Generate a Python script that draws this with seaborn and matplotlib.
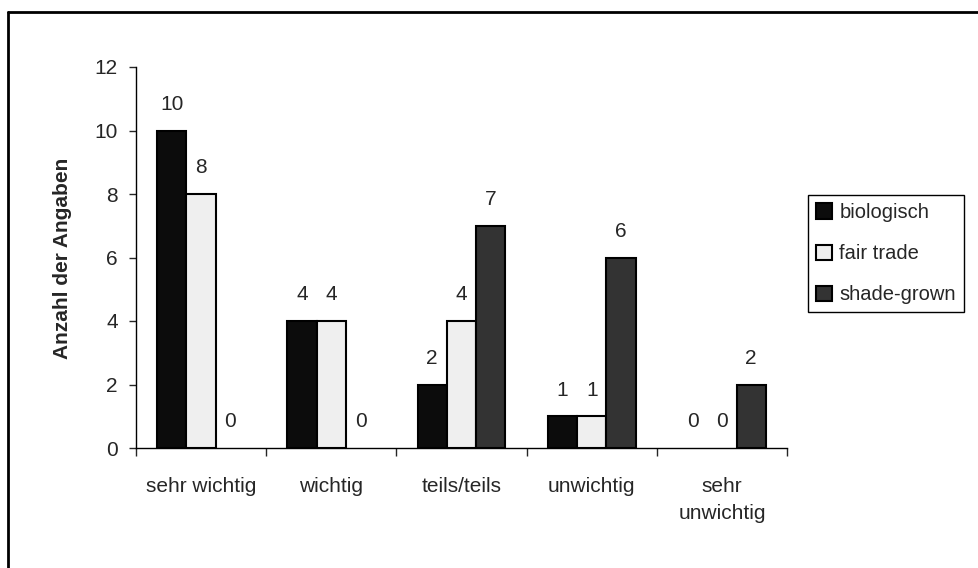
import matplotlib
matplotlib.use("Agg")
import matplotlib.pyplot as plt
from matplotlib.lines import Line2D
from matplotlib.ticker import FixedLocator, NullFormatter
import seaborn as sns
import pandas as pd

categories = ["sehr wichtig", "wichtig", "teils/teils", "unwichtig", "sehr\nunwichtig"]
series = ["biologisch", "fair trade", "shade-grown"]
biologisch = [10, 4, 2, 1, 0]
fair_trade = [8, 4, 4, 1, 0]
shade_grown = [0, 0, 7, 6, 2]
y_ticks = [0, 2, 4, 6, 8, 10, 12]

df = pd.DataFrame({
    "Kategorie": categories * 3,
    "Reihe": [series[0]] * 5 + [series[1]] * 5 + [series[2]] * 5,
    "Anzahl": biologisch + fair_trade + shade_grown,
})

sns.set_style("white")
plt.rcParams["font.family"] = ["Liberation Sans", "DejaVu Sans"]

fig = plt.figure(figsize=(9.79, 5.68), dpi=100)
ax = fig.add_axes([136 / 979, 1 - 448 / 568, 651 / 979, 381 / 568])

palette = {"biologisch": "#0c0c0c", "fair trade": "#efefef", "shade-grown": "#333333"}
sns.barplot(data=df, x="Kategorie", y="Anzahl", hue="Reihe", order=categories,
            hue_order=series, palette=palette, width=0.675, gap=0,
            edgecolor="black", linewidth=1.5, saturation=1, ax=ax)

for cont in ax.containers:
    # zero-height bars leave no outline on the axis
    for patch, v in zip(cont.patches, cont.datavalues):
        if v == 0:
            patch.set_linewidth(0)
    ax.bar_label(cont, labels=[f"{int(v)}" for v in cont.datavalues],
                 padding=12, fontsize=15)

ax.set_ylim(0, 12)
ax.set_xlim(-0.5, 4.5)
ax.set_yticks(y_ticks)
ax.set_yticklabels([str(t) for t in y_ticks], fontsize=15)
ax.tick_params(axis="y", direction="out", length=5, width=1, pad=8, left=True)

# category boundaries carry the tick marks, labels sit at the centres
ax.xaxis.set_major_locator(FixedLocator([-0.5, 0.5, 1.5, 2.5, 3.5, 4.5]))
ax.xaxis.set_major_formatter(NullFormatter())
ax.xaxis.set_minor_locator(FixedLocator(range(len(categories))))
ax.set_xticklabels(categories, minor=True, fontsize=15, linespacing=1.5)
ax.tick_params(axis="x", which="major", direction="out", length=6, width=1, bottom=True)
ax.tick_params(axis="x", which="minor", length=0, pad=21)

ax.set_xlabel("")
ax.set_ylabel("")
for side in ["top", "right"]:
    ax.spines[side].set_visible(False)
for side in ["left", "bottom"]:
    ax.spines[side].set_color("black")
    ax.spines[side].set_linewidth(1)
    ax.spines[side].set_zorder(5)

fig.text(62 / 979, 1 - 258 / 568, "Anzahl der Angaben", rotation=90,
         ha="center", va="center", fontsize=15, fontweight="bold")

handles, labels = ax.get_legend_handles_labels()
ax.legend(handles, labels, loc="upper left",
          bbox_to_anchor=(808 / 979, 1 - 195 / 568), bbox_transform=fig.transFigure,
          frameon=True, fancybox=False, edgecolor="black", framealpha=1,
          fontsize=14.5, handlelength=0.8, handleheight=0.8, handletextpad=0.35,
          labelspacing=1.1, borderpad=0.4, borderaxespad=0)
ax.get_legend().get_frame().set_linewidth(1)

# outer chart frame (left and top edges visible)
fig.add_artist(Line2D([8 / 979, 8 / 979], [0, 1 - 12 / 568], color="black", lw=2,
                      transform=fig.transFigure))
fig.add_artist(Line2D([8 / 979, 1], [1 - 12 / 568, 1 - 12 / 568], color="black", lw=2,
                      transform=fig.transFigure))

fig.savefig("out.png", dpi=100)
